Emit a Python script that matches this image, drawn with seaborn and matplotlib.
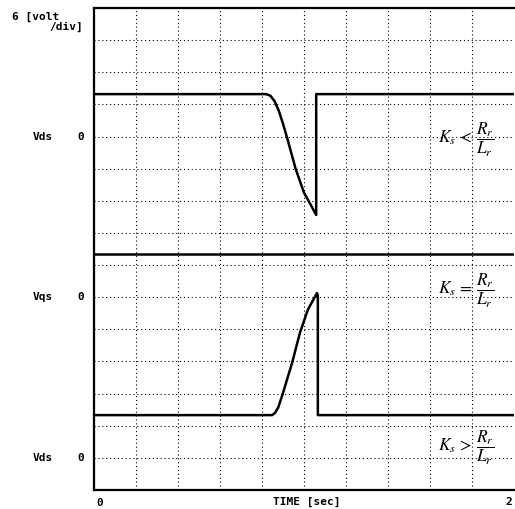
import matplotlib
matplotlib.use("Agg")
import matplotlib.pyplot as plt
import seaborn as sns
import numpy as np

sns.set_style("white")
plt.rcParams['font.family'] = ['DejaVu Sans']
plt.rcParams['mathtext.fontset'] = 'stix'

t_upper = [0.0, 0.82, 0.84, 0.86, 0.88, 0.90, 0.92, 0.96, 1.00, 1.03, 1.058, 1.058, 2.0]
v_upper = [12.32, 12.32, 12.27, 12.10, 11.80, 11.40, 10.95, 10.00, 9.25, 8.90, 8.56, 12.32, 12.32]

t_middle = [0.0, 2.0]
v_middle = [7.35, 7.35]

t_lower = [0.0, 0.848, 0.862, 0.878, 0.900, 0.943, 0.981, 1.019, 1.062, 1.066, 1.066, 2.0]
v_lower = [2.33, 2.33, 2.40, 2.58, 3.02, 3.95, 4.90, 5.62, 6.13, 6.05, 2.33, 2.33]

channel_labels = ["Vds", "Vqs", "Vds"]
channel_zero = [11, 6, 1]
conditions = [r"$K_s\,<\,\dfrac{R_r}{L_r}$",
              r"$K_s\,=\,\dfrac{R_r}{L_r}$",
              r"$K_s\,>\,\dfrac{R_r}{L_r}$"]
condition_y = [10.9, 6.2, 1.3]

W, H = 515, 509
fig = plt.figure(figsize=(W / 100, H / 100), dpi=100)
ax = fig.add_axes([94 / W, 19 / H, 420 / W, 482 / H])

for tt, vv in [(t_upper, v_upper), (t_middle, v_middle), (t_lower, v_lower)]:
    sns.lineplot(x=tt, y=vv, ax=ax, sort=False, estimator=None,
                 color="black", linewidth=1.8)

ax.set_xlim(0, 2)
ax.set_ylim(0, 15)
ax.set_xticks(np.arange(0, 2.01, 0.2))
ax.set_yticks(np.arange(0, 15.1, 1))
ax.grid(True, color="black", linestyle=(0, (1, 2.5)), linewidth=0.8)
ax.tick_params(left=False, bottom=False, labelleft=False, labelbottom=False)
for side in ["left", "bottom", "top"]:
    ax.spines[side].set_color("black")
    ax.spines[side].set_linewidth(1.6)
ax.spines["right"].set_visible(False)

def px(x, y):
    return x / W, 1 - y / H

mono = dict(family="DejaVu Sans Mono", weight="bold", fontsize=8, color="black")

fig.text(*px(12, 17), "6 [volt", ha="left", va="center", **mono)
fig.text(*px(83, 27), "/div]", ha="right", va="center", **mono)

for lab, z in zip(channel_labels, channel_zero):
    y = 490 - z * 482 / 15
    fig.text(*px(33, y), lab, ha="left", va="center", **mono)
    fig.text(*px(81, y), "0", ha="center", va="center", **mono)

fig.text(*px(100, 503), "0", ha="center", va="center", **mono)
fig.text(*px(307, 502), "TIME [sec]", ha="center", va="center", **mono)
fig.text(*px(509, 502), "2", ha="center", va="center", **mono)

for txt, cy in zip(conditions, condition_y):
    ax.text(1.638, cy, txt, ha="left", va="center", fontsize=12.5, color="black")

fig.savefig("out.png", dpi=100, facecolor="white")
